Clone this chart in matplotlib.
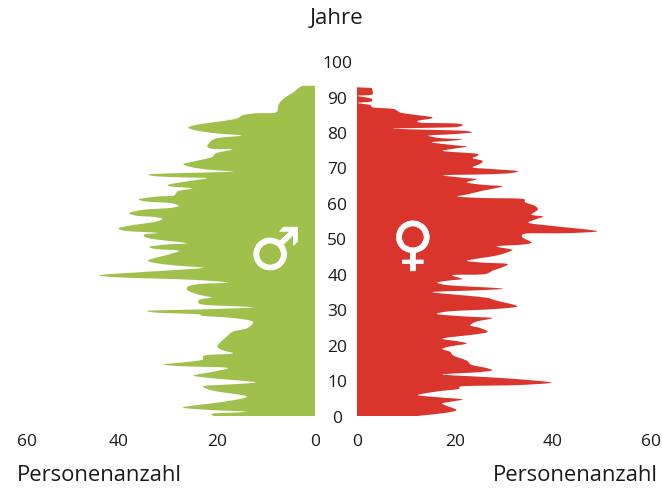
import matplotlib
matplotlib.use('Agg')
import matplotlib.pyplot as plt
import matplotlib.patheffects as pe
from matplotlib.path import Path
from matplotlib.patches import PathPatch

plt.rcParams['font.family'] = ['Open Sans', 'DejaVu Sans']

W, H = 662, 489
GREEN = '#9FC04A'
RED = '#D9352C'

male_age = [93.0, 92.9, 91.2, 89.3, 87.6, 85.5, 85.3, 84.8, 83.8, 83.1, 82.2, 81.3, 80.4, 79.6, 79.0,
            78.4, 77.6, 75.9, 75.2, 75.1, 74.1, 72.9, 71.9, 70.9, 69.8, 69.2, 68.8, 68.5, 68.1, 67.5,
            67.2, 67.0, 66.2, 65.3, 64.7, 64.1, 63.4, 62.1, 61.8, 61.1, 60.4, 60.0, 59.2, 58.6, 58.1,
            57.2, 56.4, 56.1, 55.5, 54.6, 53.8, 52.9, 52.1, 51.6, 51.2, 50.4, 49.7, 48.7, 48.3, 47.7,
            47.0, 46.6, 45.6, 43.9, 43.0, 42.3, 41.7, 40.8, 39.7, 39.0, 38.4, 37.6, 37.2, 36.5, 35.3,
            34.1, 33.4, 32.8, 32.0, 31.3, 30.6, 30.0, 29.7, 29.1, 28.7, 28.2, 27.6, 26.6, 24.7, 23.8,
            22.4, 19.8, 18.6, 17.6, 17.1, 15.8, 15.1, 14.5, 14.0, 13.6, 12.5, 11.4, 10.6, 9.5, 8.8,
            8.4, 7.1, 5.5, 4.0, 2.5, 1.8, 1.2, 0.7, 0.0]
male_val = [0.0, 2.7, 4.4, 6.5, 7.5, 8.0, 11.9, 14.6, 16.0, 18.7, 23.5, 25.9, 24.1, 20.1, 15.0,
            19.4, 21.1, 22.0, 20.7, 16.8, 20.1, 21.1, 24.1, 26.9, 24.1, 20.1, 16.8, 25.5, 33.7, 32.3,
            26.2, 22.0, 25.5, 29.6, 29.6, 25.0, 27.9, 28.9, 32.3, 35.9, 34.4, 29.6, 27.8, 29.6, 35.0,
            37.9, 36.4, 33.0, 31.1, 33.0, 37.1, 40.1, 38.4, 32.1, 34.7, 34.7, 32.3, 26.2, 30.3, 33.8,
            32.3, 27.8, 29.6, 34.0, 32.3, 27.6, 22.9, 32.3, 43.9, 39.1, 25.5, 17.8, 23.5, 25.9, 25.9,
            23.5, 21.1, 23.5, 23.8, 22.4, 12.7, 24.1, 33.8, 32.3, 24.1, 22.8, 16.7, 12.7, 13.9, 16.7,
            18.0, 19.9, 19.0, 16.8, 22.4, 23.1, 26.9, 31.0, 26.9, 17.9, 20.7, 24.8, 20.7, 12.1, 18.7,
            22.8, 20.7, 13.9, 18.7, 26.9, 22.8, 13.9, 20.7, 20.7]

# Altersprofil Frauen
female_age = [92.4, 91.5, 90.5, 90.2, 89.5, 89.0, 88.5, 88.2, 87.6, 86.9, 86.5, 85.5, 85.0, 84.3, 83.8,
              83.2, 82.6, 82.4, 81.8, 81.3, 81.0, 80.7, 80.4, 79.9, 79.4, 79.0, 78.3, 77.9, 77.5, 77.1,
              76.4, 75.9, 75.4, 74.7, 74.3, 73.9, 73.3, 72.6, 71.9, 71.0, 70.0, 69.6, 69.0, 68.3, 68.0,
              67.8, 67.1, 66.7, 65.8, 65.1, 64.7, 63.5, 62.4, 61.8, 61.4, 61.2, 60.2, 59.2, 58.1, 56.7,
              56.2, 55.5, 54.4, 53.6, 52.1, 51.5, 51.4, 50.3, 48.9, 48.3, 47.8, 47.0, 46.6, 45.2, 43.8,
              43.2, 42.9, 42.2, 41.0, 39.9, 39.7, 38.6, 38.2, 37.6, 36.8, 35.9, 35.4, 34.9, 33.9, 33.3,
              32.6, 30.9, 30.1, 29.5, 28.7, 28.0, 27.6, 26.6, 25.5, 24.8, 23.6, 22.7, 22.2, 21.7, 21.1,
              20.4, 19.6, 18.9, 18.1, 17.0, 15.6, 14.4, 13.5, 12.8, 12.3, 11.7, 11.0, 10.4, 9.4, 8.7,
              8.4, 7.6, 6.9, 5.9, 5.3, 4.7, 4.0, 3.4, 1.7, 0.8, 0.0]
female_val = [3.0, 3.2, 3.0, 0.1, 2.7, 3.1, 2.7, 0.1, 2.7, 3.3, 7.4, 8.8, 10.8, 14.9, 15.2,
              12.5, 13.2, 20.3, 21.5, 19.0, 7.4, 12.2, 21.0, 23.5, 19.7, 14.6, 16.9, 21.4, 19.0, 15.2,
              19.0, 22.4, 20.3, 17.4, 20.3, 24.4, 24.6, 23.6, 25.6, 25.1, 23.6, 27.1, 32.8, 30.5, 23.7,
              17.5, 21.7, 24.4, 22.4, 25.8, 29.7, 25.8, 22.4, 20.5, 25.8, 33.6, 34.3, 36.3, 36.9, 35.6,
              38.0, 36.7, 35.0, 39.4, 49.0, 42.8, 34.6, 33.8, 35.6, 33.9, 28.5, 31.2, 31.6, 28.5, 22.5,
              25.8, 30.5, 30.2, 27.8, 25.8, 19.5, 21.5, 19.0, 16.4, 19.0, 29.7, 24.4, 15.4, 22.4, 26.5,
              28.2, 32.7, 27.8, 19.0, 16.4, 22.4, 27.6, 24.4, 23.1, 25.1, 26.6, 22.4, 19.0, 17.4, 20.3,
              22.4, 19.0, 17.4, 19.0, 19.7, 22.4, 23.4, 26.5, 27.5, 24.4, 17.4, 25.8, 32.6, 39.7, 32.6,
              21.7, 20.7, 16.3, 12.4, 16.3, 21.5, 19.0, 17.4, 20.3, 17.6, 12.2]

age_ticks = [0, 10, 20, 30, 40, 50, 60, 70, 80, 90, 100]
count_ticks = [0, 20, 40, 60]
count_labels = ['0', '20', '40', '60']


def smooth_profile(ages, vals, top, tension=0.15):
    pts = list(zip(vals, ages))
    verts = [(0, top), pts[0]]
    codes = [Path.MOVETO, Path.LINETO]
    for i in range(len(pts) - 1):
        p0 = pts[max(i - 1, 0)]
        p1 = pts[i]
        p2 = pts[i + 1]
        p3 = pts[min(i + 2, len(pts) - 1)]
        c1 = (p1[0] + (p2[0] - p0[0]) * tension, p1[1] + (p2[1] - p0[1]) * tension)
        c2 = (p2[0] - (p3[0] - p1[0]) * tension, p2[1] - (p3[1] - p1[1]) * tension)
        verts += [c1, c2, p2]
        codes += [Path.CURVE4] * 3
    verts += [(0, 0), (0, top)]
    codes += [Path.LINETO, Path.CLOSEPOLY]
    return Path(verts, codes)


def make_axes(x0, x1):
    ax = fig.add_axes([x0 / W, 1 - 417 / H, (x1 - x0) / W, 355 / H])
    ax.set_ylim(0, 100)
    for s in ax.spines.values():
        s.set_visible(False)
    ax.patch.set_visible(False)
    ax.set_xticks(count_ticks, count_labels)
    ax.tick_params(length=0, labelsize=12.5, colors='#1a1a1a')
    ax.tick_params(axis='x', pad=12.5)
    return ax


fig = plt.figure(figsize=(W / 100, H / 100), dpi=100)
symbol_stroke = [pe.withStroke(linewidth=0.5, foreground='white')]

ax_m = make_axes(21, 315)
ax_m.set_xlim(60, 0)
ax_m.add_patch(PathPatch(smooth_profile(male_age, male_val, 93.0), fc=GREEN, ec='none'))
ax_m.yaxis.tick_right()
ax_m.set_yticks(age_ticks)
ax_m.tick_params(axis='y', pad=16)
for lab in ax_m.get_yticklabels():
    lab.set_ha('center')
# die 60 links steht im Original etwas weiter innen
ax_m.set_xticks([0, 20, 40, 58.7], count_labels)
ax_m.text(8.1, 46.0, '\u2642', color='white', fontsize=42, ha='center', va='center',
          family=['DejaVu Sans'], fontweight='bold', path_effects=symbol_stroke)

ax_f = make_axes(357, 651)
ax_f.set_xlim(0, 60)
ax_f.add_patch(PathPatch(smooth_profile(female_age, female_val, 92.6), fc=RED, ec='none'))
ax_f.set_yticks([])
ax_f.text(11.4, 47.6, '\u2640', color='white', fontsize=42, ha='center', va='center',
          family=['DejaVu Sans'], fontweight='bold', path_effects=symbol_stroke)

fig.text(337 / W, 1 - 19 / H, 'Jahre', fontsize=16, ha='center', va='center', color='#1a1a1a')
fig.text(17 / W, 1 - 476 / H, 'Personenanzahl', fontsize=15.8, ha='left', va='center', color='#1a1a1a')
fig.text(658 / W, 1 - 476 / H, 'Personenanzahl', fontsize=15.8, ha='right', va='center', color='#1a1a1a')

fig.savefig('out.png', dpi=100)
